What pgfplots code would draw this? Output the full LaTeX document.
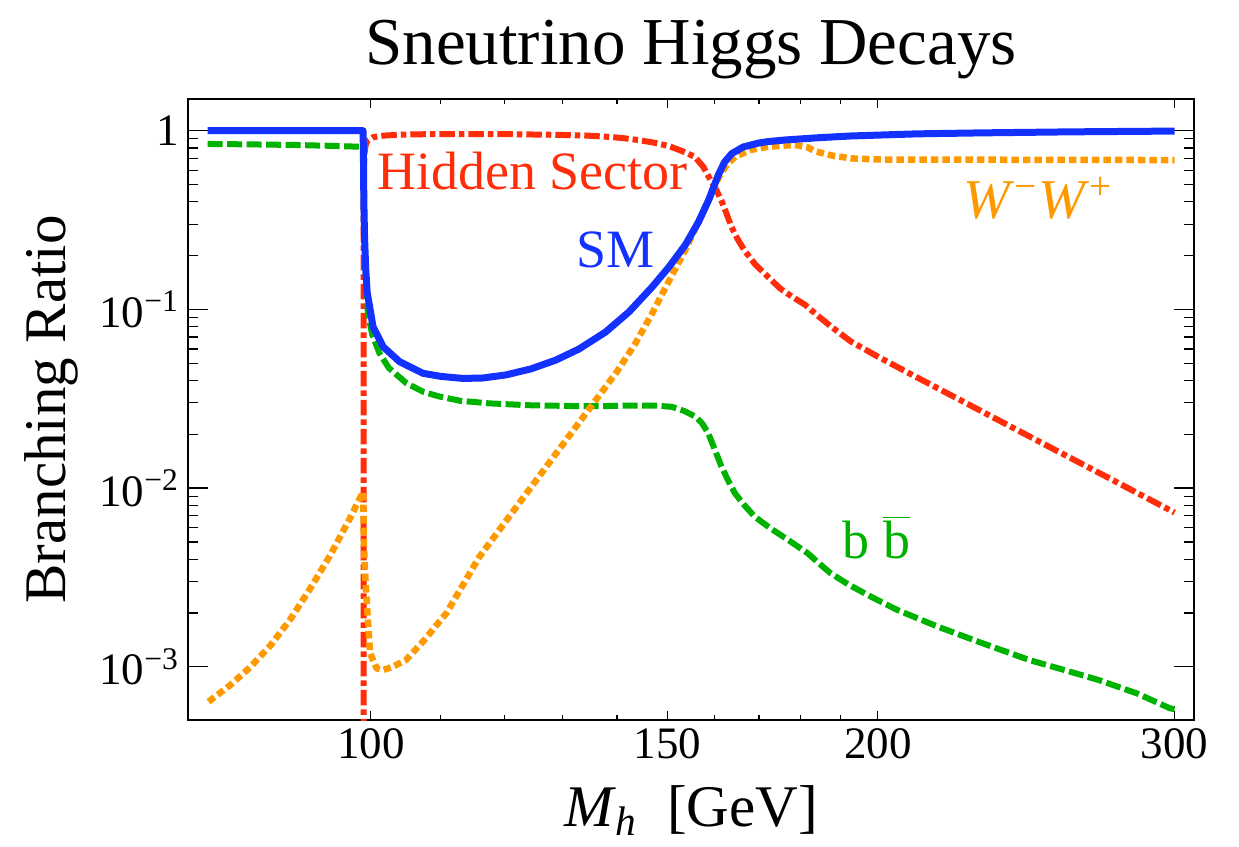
\documentclass[border=0pt]{standalone}
\usepackage{fontspec}
\setmainfont{Liberation Serif}
\usepackage{pgfplots}
\pgfplotsset{compat=1.18}
\usetikzlibrary{calc}
\definecolor{cblue}{RGB}{20,50,255}
\definecolor{cred}{RGB}{255,45,10}
\definecolor{cgreen}{RGB}{0,178,0}
\definecolor{corange}{RGB}{255,153,0}

\begin{document}
\begin{tikzpicture}
\begin{axis}[
  scale only axis,
  width=402.4pt, height=248.4pt,
  xmode=log, ymode=log,
  xmin=77.9, xmax=308.1,
  ymin=5.04e-4, ymax=1.504,
  xtick={100,150,200,300},
  xticklabels={100,150,200,300},
  minor xtick={110,120,130,140,160,170,180,190},
  ytick={0.001,0.01,0.1,1},
  yticklabels={10\textsuperscript{−3},10\textsuperscript{−2},10\textsuperscript{−1},1},
  minor ytick={0.002,0.003,0.004,0.005,0.006,0.007,0.008,0.009,
               0.02,0.03,0.04,0.05,0.06,0.07,0.08,0.09,
               0.2,0.3,0.4,0.5,0.6,0.7,0.8,0.9},
  tick align=inside,
  major tick length=8pt,
  minor tick length=4pt,
  xtick style={/pgfplots/major tick length=3.6pt,/pgfplots/minor tick length=2pt},
  axis line style={line width=0.8pt},
  tick style={line width=0.5pt, black},
  tick label style={font=\fontsize{18}{18}\selectfont},
  no markers,
  clip mode=individual,
]
% Hidden sector (red, dash-dot)
\addplot[cred, line width=2.4pt, line join=round,
  dash pattern=on 6.2pt off 1.6pt on 2.2pt off 1.6pt] table {
x y
99.0 0.00001
99.02 0.3
99.05 0.6
99.15 0.75
99.3 0.83
99.5 0.875
100.3 0.92
101.7 0.938
104 0.949
107 0.955
113 0.958
120 0.957
128.8 0.948
134 0.94
137.8 0.926
141 0.91
144.3 0.885
147 0.86
150.3 0.82
153 0.77
155.7 0.715
157.5 0.63
159.1 0.53
160.3 0.47
161.6 0.40
162.7 0.34
163.7 0.29
165 0.25
166.6 0.215
169 0.18
172.1 0.152
175 0.131
177.8 0.118
181.1 0.106
184 0.093
188 0.079
192.8 0.066
200 0.0544
210 0.0426
225 0.0303
240 0.0220
255 0.0163
270 0.0123
285 0.00941
300 0.0073
};
% b bbar (green, dashed)
\addplot[cgreen, line width=2.4pt, line join=round,
  dash pattern=on 6pt off 1.8pt] table {
x y
80 0.843
85 0.838
90 0.832
95 0.822
98.95 0.812
99.0 0.6
99.05 0.4
99.15 0.25
99.35 0.15
99.6 0.095
100.2 0.072
101.2 0.0568
102.5 0.047
105 0.0386
107.5 0.0345
109.9 0.0325
113 0.0308
117.6 0.0298
124 0.0291
131.7 0.0288
138 0.0288
144.3 0.0290
148 0.0289
150.9 0.0285
153.5 0.027
155.9 0.0251
157.3 0.023
158.6 0.0203
160 0.0165
161.5 0.0132
163 0.0110
164.5 0.00936
166.5 0.0081
169 0.00692
172.5 0.0060
176.9 0.00513
181.7 0.00432
184.5 0.0038
187.5 0.00334
192 0.0029
198.1 0.00247
205.4 0.00208
217 0.00168
230 0.00137
246.1 0.00109
258 0.00096
270.4 0.000844
285 0.00071
298.1 0.000586
300 0.00058
};
% W W (orange, dotted)
\addplot[corange, line width=2.6pt, line join=round,
  dash pattern=on 3pt off 1.6pt] table {
x y
80.1 0.000638
82.5 0.000789
84.8 0.000995
87.2 0.00132
89.6 0.00185
92.0 0.00272
94.6 0.00421
97.2 0.00679
98.5 0.00878
98.95 0.0095
99.0 0.007
99.05 0.005
99.2 0.0035
99.4 0.00247
99.9 0.00119
100.8 0.00098
101.7 0.00096
103 0.00100
104.9 0.00109
107.5 0.00140
110.9 0.0020
116 0.00413
120 0.00635
125 0.01067
130 0.01754
135 0.0283
140 0.0449
143.5 0.064
146.9 0.095
150 0.139
153.7 0.215
156 0.29
158 0.3756
159.5 0.46
161 0.553
162.8 0.65
164.6 0.715
168 0.78
172.2 0.814
178.5 0.832
181.5 0.81
183.9 0.763
188 0.725
192.8 0.70
200 0.69
250 0.687
300 0.685
};
% SM (blue, solid)
\addplot[cblue, line width=2.8pt, line join=round] table {
x y
80 1.0
98.95 1.0
99.0 0.7
99.05 0.4
99.15 0.25
99.3 0.17
99.5 0.125
100.3 0.080
101.7 0.0618
104.0 0.051
107.4 0.0439
110 0.0422
113.4 0.0411
116.5 0.0413
120.3 0.0430
124.5 0.0465
128.8 0.0521
132.9 0.0600
137.8 0.0746
142.3 0.0967
146.9 0.1335
150.3 0.1727
153.7 0.2293
156.5 0.3083
158.7 0.4095
160.8 0.565
162.2 0.668
163.8 0.745
166.4 0.811
169.9 0.853
172 0.868
176.1 0.887
185 0.915
192.7 0.934
211 0.960
230 0.972
260 0.985
300 0.995
};
\node[cred, anchor=base, font=\fontsize{21.6}{24}\selectfont] at (axis cs:124.7,0.466) {Hidden Sector};
\node[cblue, anchor=base, font=\fontsize{21.6}{24}\selectfont] at (axis cs:139.8,0.1705) {SM};
\node[corange, anchor=base, font=\fontsize{22.5}{24}\selectfont] at (axis cs:249,0.3247) {\textit{W}\textsuperscript{−}\textit{W}\textsuperscript{+}};
\node[cgreen, anchor=base, font=\fontsize{21.6}{24}\selectfont] at (axis cs:199.7,0.00406) {b $\overline{\mbox{b}}$};
\coordinate (SW) at (rel axis cs:0,0);
\coordinate (NE) at (rel axis cs:1,1);
\coordinate (T) at (rel axis cs:0.5,1);
\coordinate (B) at (rel axis cs:0.5,0);
\coordinate (L) at (rel axis cs:0,0.5);
\end{axis}
\node[anchor=base, font=\fontsize{26.8}{30}\selectfont] at ([yshift=14pt]T) {Sneutrino Higgs Decays};
\node[anchor=base, font=\fontsize{23.6}{26}\selectfont] at ([yshift=-42.4pt]B) {\textit{M}\textsubscript{\textit{h}}\ \ [GeV]};
\node[anchor=base, rotate=90, font=\fontsize{23.6}{26}\selectfont] at ([xshift=-48.8pt]L) {Branching Ratio};
\pgfresetboundingbox
\path[use as bounding box] ($(SW)+(-75.2pt,-50.4pt)$) rectangle ($(NE)+(18pt,39.6pt)$);
\end{tikzpicture}
\end{document}
